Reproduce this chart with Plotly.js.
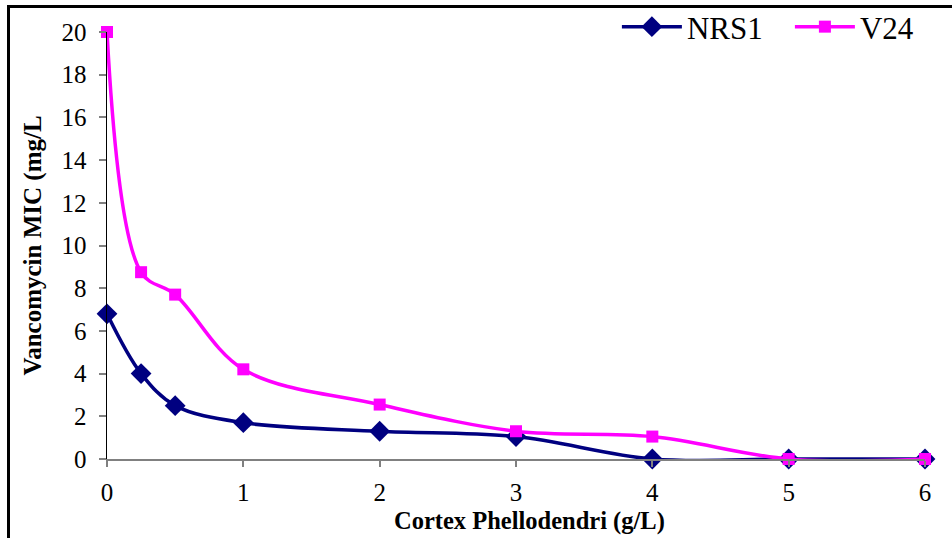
<!DOCTYPE html>
<html><head><meta charset="utf-8">
<script src="https://cdn.plot.ly/plotly-3.0.1.min.js"></script>
<style>
html,body{margin:0;padding:0;background:#fff;}
#chart{width:952px;height:538px;position:relative;}
#frame{position:absolute;left:7px;top:5px;width:1000px;height:600px;border-left:3px solid #000;border-top:3px solid #000;pointer-events:none;}
</style></head>
<body>
<div style="position:relative;width:952px;height:538px;overflow:hidden;">
<div id="chart"></div>
<div id="frame"></div>
</div>
<script>
const concentrations = [0, 0.25, 0.5, 1, 2, 3, 4, 5, 6];
const nrs1 = [6.8, 4.0, 2.5, 1.7, 1.3, 1.05, 0, 0, 0];
const v24 = [20, 8.75, 7.7, 4.2, 2.55, 1.3, 1.05, 0, 0];
const seriesNames = ['NRS1', 'V24'];
const xTicks = [0, 1, 2, 3, 4, 5, 6];
const yTicks = [0, 2, 4, 6, 8, 10, 12, 14, 16, 18, 20];
const xTitle = 'Cortex Phellodendri (g/L)';
const yTitle = 'Vancomycin MIC (mg/L';

const font = 'Liberation Serif, Times New Roman, serif';
const traces = [
  {x: concentrations, y: nrs1, name: seriesNames[0], type: 'scatter', mode: 'lines+markers', cliponaxis: false,
   line: {color: '#000080', width: 3.5, shape: 'spline', smoothing: 1},
   marker: {symbol: 'diamond', size: 16, color: '#000080'}},
  {x: concentrations, y: v24, name: seriesNames[1], type: 'scatter', mode: 'lines+markers', cliponaxis: false,
   line: {color: '#FF00FF', width: 3.5, shape: 'spline', smoothing: 1},
   marker: {symbol: 'square', size: 12, color: '#FF00FF'}}
];
const layout = {
  width: 952, height: 538,
  margin: {l: 107, r: 27, t: 32, b: 79, autoexpand: false},
  paper_bgcolor: 'rgba(0,0,0,0)', plot_bgcolor: 'rgba(0,0,0,0)',
  font: {family: font, color: '#000'},
  showlegend: true,
  legend: {orientation: 'h', xref: 'container', yref: 'container', x: 0.648, y: 1.0, xanchor: 'left', yanchor: 'top',
           itemwidth: 60, entrywidth: 98,
           font: {family: font, size: 31, color: '#000'}, bgcolor: 'rgba(0,0,0,0)'},
  xaxis: {range: [0, 6], tickvals: xTicks, ticktext: xTicks.map(String),
          showgrid: false, zeroline: false, showline: true, linecolor: '#808080', linewidth: 2,
          ticks: 'outside', ticklen: 6, tickwidth: 2, tickcolor: '#808080',
          tickfont: {family: font, size: 25, color: '#000'}, ticklabelstandoff: 4},
  yaxis: {range: [0, 20], tickvals: yTicks, ticktext: yTicks.map(String),
          showgrid: false, zeroline: false, showline: true, linecolor: '#000', linewidth: 1.5,
          ticks: 'outside', ticklen: 7, tickwidth: 2, tickcolor: '#808080',
          tickfont: {family: font, size: 25, color: '#000'}, ticklabelstandoff: 7,
          title: {text: '<b>' + yTitle + '</b>', font: {family: font, size: 25, color: '#000'}, standoff: 13}},
  annotations: [{text: '<b>' + xTitle + '</b>', xref: 'paper', yref: 'paper', x: 0.516, y: -0.145,
                 xanchor: 'center', yanchor: 'middle', showarrow: false,
                 font: {family: font, size: 24.5, color: '#000'}}]
};
Plotly.newPlot('chart', traces, layout, {displayModeBar: false, staticPlot: true});
</script>
</body></html>
